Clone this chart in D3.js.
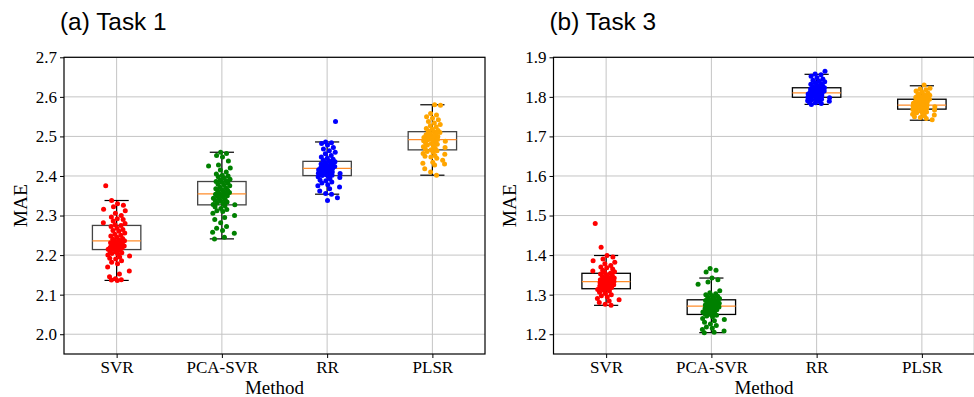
<!DOCTYPE html>
<html lang="en">
<head>
<meta charset="UTF-8" />
<title>MAE by method</title>
<script src="https://cdn.jsdelivr.net/npm/d3@7"></script>
<style>
  body { margin: 0; background: #fff; }
  svg { display: block; }
  .tick text { font-family: "Liberation Serif", "Times New Roman", serif; }
</style>
</head>
<body>
<svg id="chart" width="974" height="397"></svg>
<script>
var methods = ["SVR", "PCA-SVR", "RR", "PLSR"];
var colors = ["#ff0000", "#008000", "#0000ff", "#ffa500"];

var titles = ["(a) Task 1", "(b) Task 3"];
var yDomains = [[1.95, 2.7], [1.15, 1.9]];
var yTicks = [
  [2.0, 2.1, 2.2, 2.3, 2.4, 2.5, 2.6, 2.7],
  [1.2, 1.3, 1.4, 1.5, 1.6, 1.7, 1.8, 1.9]
];

// box stats per method: [whisker low, q1, median, q3, whisker high]
var task1Box = [
  [2.136, 2.214, 2.236, 2.275, 2.338],
  [2.241, 2.327, 2.355, 2.386, 2.460],
  [2.354, 2.401, 2.419, 2.437, 2.486],
  [2.402, 2.466, 2.492, 2.512, 2.580]
];
var task3Box = [
  [1.273, 1.315, 1.333, 1.354, 1.399],
  [1.204, 1.250, 1.271, 1.287, 1.342],
  [1.781, 1.799, 1.810, 1.823, 1.857],
  [1.741, 1.769, 1.779, 1.794, 1.828]
];

// individual runs
var task1SVR = [2.375, 2.338, 2.330, 2.326, 2.322, 2.316, 2.312, 2.306, 2.300, 2.296, 2.292, 2.290, 2.286, 2.282, 2.280, 2.277, 2.275, 2.272, 2.268, 2.265, 2.262, 2.260, 2.256, 2.253, 2.250, 2.248, 2.245, 2.242, 2.240, 2.238, 2.236, 2.235, 2.233, 2.231, 2.229, 2.228, 2.226, 2.225, 2.223, 2.222, 2.221, 2.220, 2.219, 2.218, 2.217, 2.216, 2.215, 2.214, 2.212, 2.210, 2.208, 2.206, 2.204, 2.202, 2.200, 2.198, 2.195, 2.192, 2.190, 2.186, 2.182, 2.178, 2.170, 2.160, 2.152, 2.145, 2.140, 2.138, 2.137, 2.136];
var task1PCA = [2.460, 2.457, 2.452, 2.448, 2.438, 2.428, 2.425, 2.420, 2.415, 2.410, 2.405, 2.402, 2.400, 2.398, 2.395, 2.392, 2.390, 2.388, 2.386, 2.384, 2.382, 2.380, 2.378, 2.375, 2.372, 2.370, 2.368, 2.366, 2.364, 2.362, 2.360, 2.358, 2.356, 2.355, 2.354, 2.352, 2.350, 2.348, 2.346, 2.344, 2.342, 2.340, 2.338, 2.336, 2.334, 2.332, 2.330, 2.328, 2.327, 2.325, 2.322, 2.318, 2.315, 2.312, 2.310, 2.306, 2.300, 2.295, 2.290, 2.282, 2.272, 2.268, 2.262, 2.258, 2.255, 2.245, 2.241];
var task1RR = [2.538, 2.486, 2.484, 2.482, 2.478, 2.472, 2.468, 2.464, 2.460, 2.456, 2.452, 2.448, 2.445, 2.442, 2.440, 2.438, 2.436, 2.434, 2.432, 2.430, 2.428, 2.427, 2.426, 2.425, 2.424, 2.423, 2.422, 2.421, 2.420, 2.419, 2.418, 2.417, 2.416, 2.415, 2.414, 2.412, 2.411, 2.410, 2.409, 2.408, 2.407, 2.406, 2.405, 2.404, 2.403, 2.402, 2.401, 2.400, 2.398, 2.396, 2.393, 2.390, 2.388, 2.385, 2.382, 2.378, 2.375, 2.372, 2.368, 2.362, 2.356, 2.354, 2.345, 2.338];
var task1PLSR = [2.580, 2.579, 2.558, 2.554, 2.550, 2.546, 2.542, 2.538, 2.534, 2.530, 2.527, 2.524, 2.520, 2.518, 2.515, 2.514, 2.512, 2.510, 2.508, 2.506, 2.504, 2.502, 2.500, 2.499, 2.498, 2.497, 2.496, 2.495, 2.494, 2.493, 2.492, 2.491, 2.490, 2.489, 2.488, 2.486, 2.484, 2.482, 2.480, 2.478, 2.476, 2.474, 2.472, 2.470, 2.468, 2.466, 2.464, 2.462, 2.460, 2.457, 2.455, 2.452, 2.450, 2.448, 2.445, 2.440, 2.435, 2.432, 2.430, 2.428, 2.418, 2.410, 2.402];

var task3SVR = [1.480, 1.420, 1.399, 1.395, 1.390, 1.386, 1.382, 1.378, 1.374, 1.370, 1.368, 1.365, 1.362, 1.360, 1.358, 1.356, 1.354, 1.352, 1.350, 1.348, 1.346, 1.344, 1.342, 1.341, 1.340, 1.338, 1.337, 1.336, 1.335, 1.334, 1.333, 1.332, 1.331, 1.330, 1.329, 1.328, 1.327, 1.326, 1.325, 1.324, 1.323, 1.322, 1.320, 1.318, 1.316, 1.315, 1.313, 1.311, 1.309, 1.306, 1.303, 1.300, 1.297, 1.294, 1.290, 1.287, 1.284, 1.280, 1.276, 1.273];
var task3PCA = [1.366, 1.362, 1.357, 1.342, 1.338, 1.332, 1.326, 1.310, 1.305, 1.302, 1.300, 1.298, 1.296, 1.294, 1.292, 1.290, 1.288, 1.286, 1.285, 1.283, 1.282, 1.280, 1.279, 1.278, 1.276, 1.275, 1.274, 1.273, 1.272, 1.271, 1.270, 1.269, 1.268, 1.266, 1.265, 1.264, 1.262, 1.260, 1.258, 1.256, 1.255, 1.253, 1.252, 1.250, 1.248, 1.246, 1.244, 1.240, 1.237, 1.234, 1.230, 1.226, 1.222, 1.218, 1.215, 1.212, 1.208, 1.205, 1.204];
var task3RR = [1.865, 1.858, 1.856, 1.852, 1.848, 1.845, 1.842, 1.840, 1.838, 1.836, 1.834, 1.832, 1.830, 1.828, 1.826, 1.824, 1.823, 1.822, 1.821, 1.820, 1.819, 1.818, 1.817, 1.816, 1.815, 1.814, 1.813, 1.812, 1.811, 1.810, 1.809, 1.808, 1.807, 1.806, 1.805, 1.804, 1.803, 1.802, 1.801, 1.800, 1.799, 1.798, 1.797, 1.796, 1.795, 1.794, 1.793, 1.792, 1.790, 1.789, 1.788, 1.786, 1.785, 1.783, 1.781];
var task3PLSR = [1.830, 1.822, 1.820, 1.818, 1.815, 1.812, 1.810, 1.808, 1.806, 1.804, 1.802, 1.800, 1.799, 1.798, 1.797, 1.796, 1.795, 1.794, 1.792, 1.790, 1.789, 1.788, 1.787, 1.786, 1.785, 1.784, 1.783, 1.782, 1.781, 1.780, 1.779, 1.778, 1.777, 1.776, 1.775, 1.774, 1.773, 1.772, 1.771, 1.770, 1.769, 1.768, 1.767, 1.766, 1.765, 1.764, 1.762, 1.760, 1.758, 1.756, 1.754, 1.752, 1.750, 1.748, 1.745, 1.742];

var panels = [
  { title: titles[0], yDomain: yDomains[0], ticks: yTicks[0], box: task1Box,
    points: [task1SVR, task1PCA, task1RR, task1PLSR], left: 64, boxStroke: "#444" },
  { title: titles[1], yDomain: yDomains[1], ticks: yTicks[1], box: task3Box,
    points: [task3SVR, task3PCA, task3RR, task3PLSR], left: 553.5, boxStroke: "#000" }
];

var plotW = 421, plotTop = 57.3, plotH = 296.7;
var svg = d3.select("#chart");

// deterministic spread so points sit side by side like a strip plot
function jitter(i) {
  var a = (i * 0.6180339) % 1, b = (i * 0.7548777 + 0.31) % 1;
  return (a + b - 1) * 0.15;
}

panels.forEach(function(p) {
  var g = svg.append("g").attr("transform", "translate(" + p.left + "," + plotTop + ")");

  var x = d3.scalePoint().domain(methods).range([0, plotW]).padding(0.5);
  var y = d3.scaleLinear().domain(p.yDomain).range([plotH, 0]);
  var step = x.step();

  // grid
  g.append("g").selectAll("line").data(p.ticks).enter().append("line")
    .attr("x1", 0).attr("x2", plotW)
    .attr("y1", function(d) { return y(d); }).attr("y2", function(d) { return y(d); })
    .attr("stroke", "#c4c4c4").attr("stroke-width", 1);
  g.append("g").selectAll("line").data(methods).enter().append("line")
    .attr("x1", function(d) { return x(d); }).attr("x2", function(d) { return x(d); })
    .attr("y1", 0).attr("y2", plotH)
    .attr("stroke", "#c4c4c4").attr("stroke-width", 1);

  // boxes
  var bw = step * 0.46, cw = step * 0.23;
  var boxes = g.append("g").selectAll("g").data(p.box).enter().append("g")
    .attr("transform", function(d, i) { return "translate(" + x(methods[i]) + ",0)"; });
  boxes.append("line")
    .attr("x1", 0).attr("x2", 0)
    .attr("y1", function(d) { return y(d[0]); }).attr("y2", function(d) { return y(d[4]); })
    .attr("stroke", "#000").attr("stroke-width", 1.2);
  boxes.append("rect")
    .attr("x", -bw / 2).attr("width", bw)
    .attr("y", function(d) { return y(d[3]); })
    .attr("height", function(d) { return y(d[1]) - y(d[3]); })
    .attr("fill", "#fff").attr("stroke", p.boxStroke).attr("stroke-width", 1.3);
  boxes.selectAll(".cap").data(function(d) { return [d[0], d[4]]; }).enter().append("line")
    .attr("x1", -cw / 2).attr("x2", cw / 2)
    .attr("y1", function(d) { return y(d); }).attr("y2", function(d) { return y(d); })
    .attr("stroke", "#000").attr("stroke-width", 1.2);
  boxes.append("line")
    .attr("x1", -bw / 2).attr("x2", bw / 2)
    .attr("y1", function(d) { return y(d[2]); }).attr("y2", function(d) { return y(d[2]); })
    .attr("stroke", "#ff8c2a").attr("stroke-width", 1.2);

  // points
  p.points.forEach(function(vals, k) {
    g.append("g").selectAll("circle").data(vals).enter().append("circle")
      .attr("cx", function(d, i) { return x(methods[k]) + jitter(i + k * 7) * step; })
      .attr("cy", function(d) { return y(d); })
      .attr("r", 2.5)
      .attr("fill", colors[k]);
  });

  // axes
  var yAxis = d3.axisLeft(y).tickValues(p.ticks).tickFormat(d3.format(".1f")).tickSize(4).tickPadding(3);
  var ya = g.append("g").call(yAxis);
  ya.select(".domain").remove();
  ya.selectAll("text").style("font-size", "17px").attr("fill", "#000");

  var xAxis = d3.axisBottom(x).tickSize(4).tickPadding(3);
  var xa = g.append("g").attr("transform", "translate(0," + plotH + ")").call(xAxis);
  xa.select(".domain").remove();
  xa.selectAll("text").style("font-size", "17px").attr("fill", "#000").attr("dy", "0.72em");

  // frame
  g.append("rect").attr("width", plotW).attr("height", plotH)
    .attr("fill", "none").attr("stroke", "#000").attr("stroke-width", 1.2);

  // labels
  g.append("text")
    .attr("transform", "translate(-44," + (plotH / 2) + ") rotate(-90)")
    .attr("text-anchor", "middle").attr("dy", "0.35em")
    .style("font-family", "'Liberation Serif', 'Times New Roman', serif")
    .style("font-size", "19.5px").text("MAE");
  g.append("text")
    .attr("x", plotW / 2).attr("y", 394 - plotTop)
    .attr("text-anchor", "middle")
    .style("font-family", "'Liberation Serif', 'Times New Roman', serif")
    .style("font-size", "19px").text("Method");
  g.append("text")
    .attr("x", -4).attr("y", 30 - plotTop)
    .style("font-family", "'Liberation Sans', Arial, sans-serif")
    .style("font-size", "24.4px").text(p.title);
});
</script>
</body>
</html>
